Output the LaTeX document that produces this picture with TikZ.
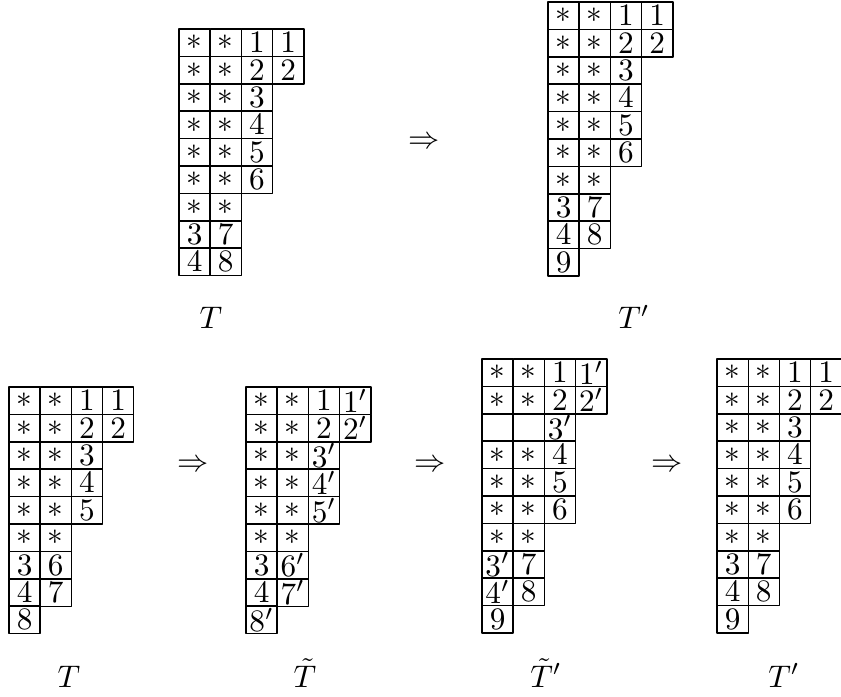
\documentclass[tikz,border=0pt]{standalone}
\begin{document}
\begin{tikzpicture}[x=0.32pt, y=-0.32pt, line cap=round, line join=round,
    cellbox/.style={draw, rectangle, line width=0.45pt, inner sep=0pt, outer sep=0pt,
      minimum width=9.98pt, minimum height=8.77pt},
    tablabel/.style={anchor=base, inner sep=0pt}]
  \useasboundingbox (0,0) rectangle (841,697);
  % top row: T => T'
  \foreach \row [count=\i] in {{*,*,1,1},{*,*,2,2},{*,*,3},{*,*,4},{*,*,5},{*,*,6},{*,*},{3,7},{4,8}}
    \foreach \e [count=\j] in \row \node[cellbox] (ta-\i-\j) at ({179+(\j-0.5)*31.2},{29+(\i-0.5)*27.4}) {\ensuremath{\e}};
  \foreach \row [count=\i] in {{*,*,1,1},{*,*,2,2},{*,*,3},{*,*,4},{*,*,5},{*,*,6},{*,*},{3,7},{4,8},{9}}
    \foreach \e [count=\j] in \row \node[cellbox] (tb-\i-\j) at ({548+(\j-0.5)*31.2},{2+(\i-0.5)*27.4}) {\ensuremath{\e}};
  \node (arrtop) at (424,143) {$\Rightarrow$};
  \node[tablabel] (lblta) at (211,329) {$T$};
  \node[tablabel] (lbltb) at (634,329) {$T'$};
  % bottom row: T => T~ => T~' => T'
  \foreach \row [count=\i] in {{*,*,1,1},{*,*,2,2},{*,*,3},{*,*,4},{*,*,5},{*,*},{3,6},{4,7},{8}}
    \foreach \e [count=\j] in \row \node[cellbox] (tc-\i-\j) at ({9+(\j-0.5)*31.2},{387+(\i-0.5)*27.4}) {\ensuremath{\e}};
  \foreach \row [count=\i] in {{*,*,1,1'},{*,*,2,2'},{*,*,3'},{*,*,4'},{*,*,5'},{*,*},{3,6'},{4,7'},{8'}}
    \foreach \e [count=\j] in \row \node[cellbox] (td-\i-\j) at ({246+(\j-0.5)*31.2},{387+(\i-0.5)*27.4}) {\ensuremath{\e}};
  \foreach \row [count=\i] in {{*,*,1,1'},{*,*,2,2'},{{},{},3'},{*,*,4},{*,*,5},{*,*,6},{*,*},{3',7},{4',8},{9}}
    \foreach \e [count=\j] in \row \node[cellbox] (te-\i-\j) at ({482+(\j-0.5)*31.2},{359+(\i-0.5)*27.4}) {\ensuremath{\e}};
  \foreach \row [count=\i] in {{*,*,1,1},{*,*,2,2},{*,*,3},{*,*,4},{*,*,5},{*,*,6},{*,*},{3,7},{4,8},{9}}
    \foreach \e [count=\j] in \row \node[cellbox] (tf-\i-\j) at ({717+(\j-0.5)*31.2},{359+(\i-0.5)*27.4}) {\ensuremath{\e}};
  \node (arrc) at (193,466) {$\Rightarrow$};
  \node (arrd) at (430,466) {$\Rightarrow$};
  \node (arre) at (667,466) {$\Rightarrow$};
  \node[tablabel] (lbltc) at (69,687) {$T$};
  \node[tablabel] (lbltd) at (305,687) {$\tilde{T}$};
  \node[tablabel] (lblte) at (546,687) {$\tilde{T}'$};
  \node[tablabel] (lbltf) at (784,687) {$T'$};
\end{tikzpicture}
\end{document}
